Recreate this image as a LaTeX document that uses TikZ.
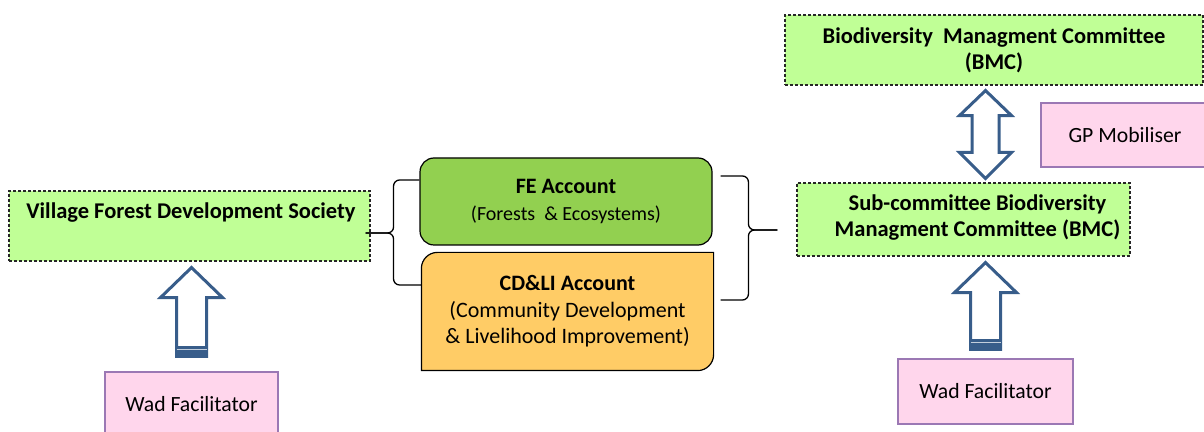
\documentclass[tikz,border=0pt]{standalone}
\usepackage{fontspec}
\setmainfont{Carlito}
\usetikzlibrary{calc, backgrounds}
\definecolor{leafgreen}{RGB}{192,255,150}
\definecolor{fegreen}{RGB}{146,208,80}
\definecolor{cdgold}{RGB}{255,204,102}
\definecolor{blush}{RGB}{255,214,236}
\definecolor{lilac}{RGB}{155,120,180}
\definecolor{steel}{RGB}{56,93,138}
\tikzset{
    society/.style={draw=black!85, dash pattern=on 3pt off 2pt, fill=leafgreen,
        line width=1.1pt, inner sep=0pt, align=center,
        font=\bfseries\fontsize{22.5}{26}\selectfont},
    societytext/.style={align=center, inner sep=0pt, font=\bfseries\fontsize{22.5}{26}\selectfont},
    helper/.style={draw=lilac, fill=blush, line width=1.3pt, inner sep=0pt,
        font=\fontsize{21.7}{26}\selectfont},
    account/.style={draw=black, line width=1.2pt, inner sep=0pt, align=center,
        font=\fontsize{22}{26.5}\selectfont},
    bracket/.style={draw=black, line width=1.3pt, rounded corners=6pt},
    blockarrow/.style={draw=steel, fill=white, line width=3pt, line join=miter},
}

\begin{document}
\begin{tikzpicture}[x=1pt, y=1pt]
\useasboundingbox (0,0) rectangle (1204,431);

% committees and society
\node[society, minimum width=361pt, minimum height=70pt] (vfds) at (189.5,205) {};
\node[societytext] (vfdstext) at ($(vfds.center)+(1.5,13)$) {Village Forest Development Society};
\node[society, minimum width=418pt, minimum height=70pt] (bmc) at (994,381) {Biodiversity\ \ Managment Committee\\(BMC)};
\node[society, minimum width=333pt, minimum height=73pt] (sub) at (963.5,211.5) {};
\node[societytext] (subtext) at ($(sub.center)+(14,1.5)$) {Sub-committee Biodiversity\\Managment Committee (BMC)};

% helpers
\node[helper, minimum width=168pt, minimum height=64pt] (gp) at (1125,296) {GP Mobiliser};
\node[helper, minimum width=173pt, minimum height=64pt] (wadl) at (191.5,27) {Wad Facilitator};
\node[helper, minimum width=175pt, minimum height=65pt] (wadr) at (985.5,39.5) {Wad Facilitator};

% accounts
\node[account, fill=fegreen, rounded corners=14pt, minimum width=292pt, minimum height=87pt] (fe) at (566,229.5)
    {\textbf{FE Account}\\{\fontsize{20}{26}\selectfont(Forests\ \ \& Ecosystems)}};
\node[account, draw=none, minimum width=291pt, minimum height=117pt] (cd) at (567.5,119.5)
    {\textbf{CD\&LI Account}\\(Community Development\\\& Livelihood Improvement)};
\begin{scope}[on background layer]
\draw[account, fill=cdgold] ([xshift=16pt]cd.north west) -- (cd.north east) -- ([yshift=16pt]cd.south east)
    arc[start angle=0, end angle=-90, radius=16pt] -- (cd.south west) -- ([yshift=-16pt]cd.north west)
    arc[start angle=180, end angle=90, radius=16pt] -- cycle;
\end{scope}

% braces
\coordinate (lbtop) at ([yshift=21.5pt]fe.west);
\coordinate (lbbot) at ([yshift=26.5pt]cd.west);
\coordinate (lbtip) at ([xshift=-5pt,yshift=-7pt]vfds.east);
\coordinate (lbx) at ([xshift=28pt]lbtip);
\draw[bracket] (lbtop) -- (lbtop -| lbx) -- (lbx) -- (lbtip);
\draw[bracket] (lbbot) -- (lbbot -| lbx) -- (lbx) -- (lbtip);

\coordinate (rbtop) at ([xshift=8pt,yshift=25.5pt]fe.east);
\coordinate (rbbot) at ([xshift=7pt,yshift=11.5pt]cd.east);
\coordinate (rbtip) at ([xshift=-19pt,yshift=-10.5pt]sub.west);
\coordinate (rbx) at ([xshift=-29pt]rbtip);
\draw[bracket] (rbtop) -- (rbtop -| rbx) -- (rbx) -- (rbtip);
\draw[bracket] (rbbot) -- (rbbot -| rbx) -- (rbx) -- (rbtip);

% block arrows
\coordinate (ltip) at ($(vfds.south -| wadl.north)+(0,-6)$);
\coordinate (lfoot) at ($(wadl.north)+(0,15)$);
\draw[blockarrow] let \p1=(lfoot), \p2=(ltip) in
    (\x1-15pt,\y1) -- (\x1-15pt,\y2-30pt) -- (\x1-31pt,\y2-30pt) -- (\x2,\y2)
    -- (\x1+31pt,\y2-30pt) -- (\x1+15pt,\y2-30pt) -- (\x1+15pt,\y1) -- cycle;
\fill[steel] let \p1=(lfoot) in (\x1-16.5pt,\y1-1.5pt) rectangle (\x1+16.5pt,\y1+10pt);
\draw[white!70!steel, line width=0.8pt] let \p1=(lfoot) in (\x1-15pt,\y1+7pt) -- (\x1+15pt,\y1+7pt);

\coordinate (rtip) at ($(sub.south -| wadr.north)+(0,-6)$);
\coordinate (rfoot) at ($(wadr.north)+(0,9)$);
\draw[blockarrow] let \p1=(rfoot), \p2=(rtip) in
    (\x1-15pt,\y1) -- (\x1-15pt,\y2-30pt) -- (\x1-31pt,\y2-30pt) -- (\x2,\y2)
    -- (\x1+31pt,\y2-30pt) -- (\x1+15pt,\y2-30pt) -- (\x1+15pt,\y1) -- cycle;
\fill[steel] let \p1=(rfoot) in (\x1-16.5pt,\y1-1.5pt) rectangle (\x1+16.5pt,\y1+10pt);
\draw[white!70!steel, line width=0.8pt] let \p1=(rfoot) in (\x1-15pt,\y1+7pt) -- (\x1+15pt,\y1+7pt);

\coordinate (dtop) at ($(bmc.south -| wadr.north)+(0,-5)$);
\coordinate (dbot) at ($(sub.north -| wadr.north)+(0,4)$);
\draw[blockarrow] let \p1=(dbot), \p2=(dtop) in
    (\x1,\y1) -- (\x1-26pt,\y1+26pt) -- (\x1-13.5pt,\y1+26pt) -- (\x1-13.5pt,\y2-25pt)
    -- (\x1-26pt,\y2-25pt) -- (\x2,\y2) -- (\x1+26pt,\y2-25pt) -- (\x1+13.5pt,\y2-25pt)
    -- (\x1+13.5pt,\y1+26pt) -- (\x1+26pt,\y1+26pt) -- cycle;

\end{tikzpicture}
\end{document}
